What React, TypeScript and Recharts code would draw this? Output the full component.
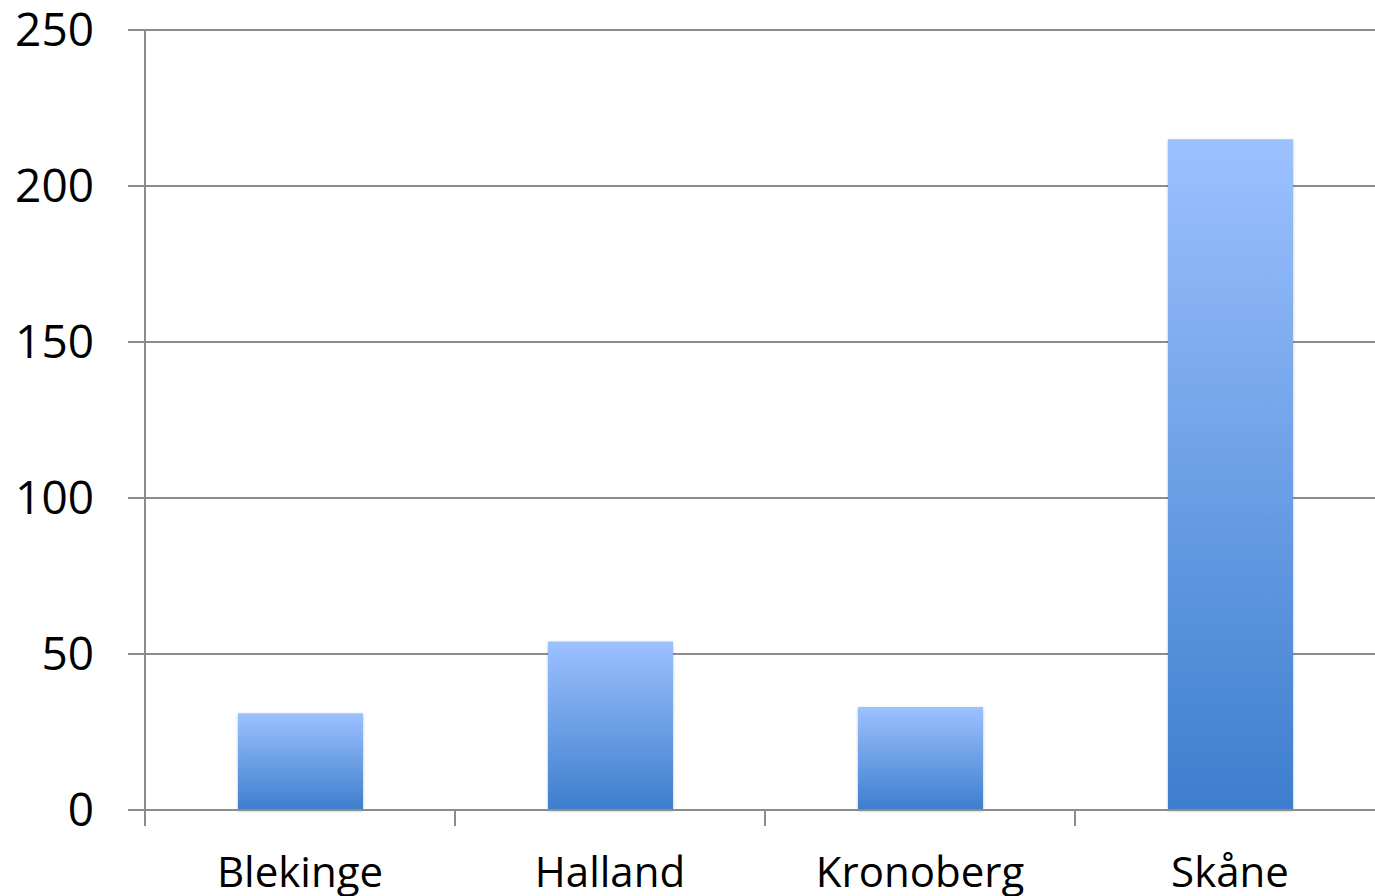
import { Bar, BarChart, CartesianGrid, XAxis, YAxis } from 'recharts'

const regions = ['Blekinge', 'Halland', 'Kronoberg', 'Skåne']
const counts = [31, 54, 33, 215]
const yTicks = [0, 50, 100, 150, 200, 250]

const data = regions.map((name, i) => ({ name, value: counts[i] }))

const gridColor = '#8c8c8c'
const fontFamily = '"Open Sans", sans-serif'
const chartWidth = 1390
const axisLeft = 145
const marginRight = 5
const halfBand = (chartWidth - axisLeft - marginRight) / regions.length / 2

// tick marks sit between categories, like the spreadsheet original
function CategoryTick(props: any) {
  const { x, y, payload } = props
  const lineX = x - halfBand
  return (
    <g>
      <line x1={lineX} y1={y} x2={lineX} y2={y + 16} stroke={gridColor} strokeWidth={2} />
      <text x={x} y={y + 47} textAnchor="middle" dy="0.71em" fill="#000" fontSize={42} fontFamily={fontFamily}>
        {payload.value}
      </text>
    </g>
  )
}

export default function App() {
  return (
    <div style={{ position: 'absolute', left: 0, top: 0, width: 1375, height: 896, overflow: 'hidden', background: '#fff' }}>
      <BarChart
        width={chartWidth}
        height={896}
        data={data}
        margin={{ top: 30, right: marginRight, bottom: 0, left: 0 }}
        barCategoryGap={0}
      >
        <defs>
          <linearGradient id="barFill" x1="0" y1="0" x2="0" y2="1">
            <stop offset="0%" stopColor="#9cc1ff" />
            <stop offset="100%" stopColor="#3d7ecd" />
          </linearGradient>
          <filter id="barShadow" x="-10%" y="-10%" width="120%" height="120%">
            <feDropShadow dx="0" dy="1" stdDeviation="1.5" floodColor="#000" floodOpacity="0.25" />
          </filter>
        </defs>
        <CartesianGrid vertical={false} stroke={gridColor} strokeWidth={2} />
        <XAxis
          dataKey="name"
          height={86}
          axisLine={{ stroke: gridColor, strokeWidth: 2 }}
          tickLine={false}
          tickSize={0}
          tickMargin={0}
          tick={<CategoryTick />}
          interval={0}
        />
        <YAxis
          width={axisLeft}
          domain={[0, 250]}
          ticks={yTicks}
          axisLine={{ stroke: gridColor, strokeWidth: 2 }}
          tickLine={{ stroke: gridColor, strokeWidth: 2 }}
          tickSize={17}
          tickMargin={34}
          tick={{ fill: '#000', fontSize: 46, fontFamily }}
        />
        <Bar
          dataKey="value"
          barSize={125}
          fill="url(#barFill)"
          filter="url(#barShadow)"
          isAnimationActive={false}
        />
      </BarChart>
    </div>
  )
}
